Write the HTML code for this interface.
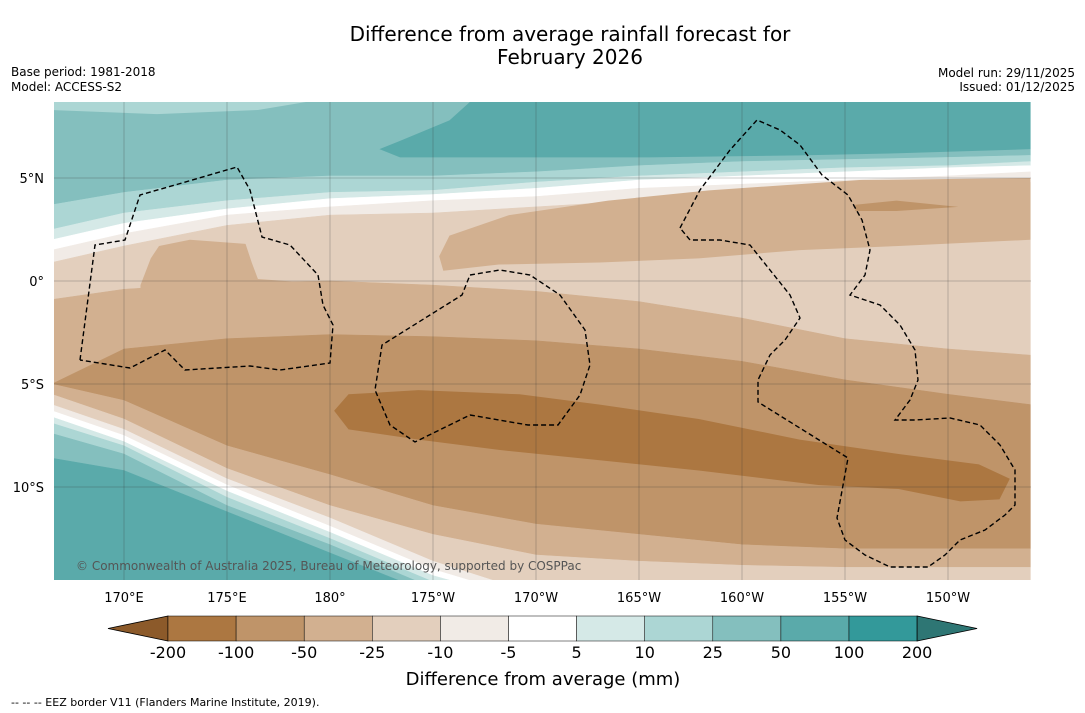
<!DOCTYPE html>
<html><head><meta charset="utf-8"><style>
body{margin:0;background:#fff;font-family:"DejaVu Sans","Liberation Sans",sans-serif;}
svg{display:block;font-family:"DejaVu Sans","Liberation Sans",sans-serif;}
</style></head><body>
<svg id="svg" width="1085" height="713" xmlns="http://www.w3.org/2000/svg">
<defs><clipPath id="mapclip"><rect x="54" y="102" width="977" height="478"/></clipPath></defs>
<text x="570" y="41" font-size="20" text-anchor="middle">Difference from average rainfall forecast for</text>
<text x="570" y="64" font-size="20" text-anchor="middle">February 2026</text>
<text x="11" y="76" font-size="12">Base period: 1981-2018</text>
<text x="11" y="91" font-size="12">Model: ACCESS-S2</text>
<text x="1075" y="77" font-size="12" text-anchor="end">Model run: 29/11/2025</text>
<text x="1075" y="91" font-size="12" text-anchor="end">Issued: 01/12/2025</text>
<g id="map" clip-path="url(#mapclip)"></g>
<g id="grid"></g>
<g id="eez" fill="none" stroke="#000" stroke-width="1.4" stroke-dasharray="5,3" clip-path="url(#mapclip)">
<polyline points="80,360 95,245 125,240 140,195 175,185 237,167 250,190 262,237 290,245 318,275 323,305 333,325 330,363 280,370 250,366 185,370 165,350 130,368 80,360"/>
<polyline points="470,275 500,270 530,275 560,295 585,330 590,365 580,395 558,425 528,425 470,415 415,442 390,425 375,390 382,345 430,315 462,295 470,275"/>
<polyline points="680,228 700,190 730,150 757,120 780,130 800,145 822,175 848,195 862,220 870,250 865,275 850,295 880,305 900,325 915,350 918,380 910,400 895,420 915,420 950,418 980,425 1000,445 1015,470 1015,505 1005,515 985,530 960,540 945,555 928,567 890,567 865,555 845,540 837,518 848,458 758,402 758,380 770,355 785,340 800,318 790,295 770,270 750,245 720,240 690,240 680,228"/>
</g>
<text x="76" y="570" font-size="12" fill="#555">© Commonwealth of Australia 2025, Bureau of Meteorology, supported by COSPPac</text>
<g id="axes"></g>
<g id="cbar"></g>
<text x="543" y="685" font-size="18" text-anchor="middle">Difference from average (mm)</text>
<text x="11" y="706" font-size="11">--  --  -- EEZ border V11 (Flanders Marine Institute, 2019).</text>
</svg>
<script>
const lons=[166.5,170,175,180,185,190,195,200,205,210,214];
const c1=[3.7,4.3,4.9,5.1,5.1,5.3,5.6,5.8,5.9,6.0,6.1];
const c2=[2.5,3.3,3.9,4.3,4.4,4.8,5.1,5.3,5.5,5.6,5.8];
const c3=[2.0,2.8,3.5,4.0,4.2,4.5,4.9,5.1,5.3,5.5,5.6];
const c4=[1.5,2.3,3.2,3.6,3.9,4.1,4.5,4.7,4.9,5.1,5.3];
const c5=[0.9,1.7,2.7,3.2,3.3,3.6,3.9,4.1,4.4,4.6,4.8];
const c6=[-0.9,-0.4,-0.1,0,-0.2,-0.5,-1.0,-1.8,-2.8,-3.3,-3.6];
const c7=[-5.0,-3.3,-2.8,-2.6,-2.7,-2.9,-3.3,-3.9,-4.8,-5.5,-6.0];
const c8=[-5.0,-5.8,-8.0,-9.4,-10.9,-11.8,-12.3,-12.8,-13.0,-13.0,-13.0];
const c9=[-5.5,-6.7,-9.1,-10.9,-12.3,-13.3,-13.6,-13.8,-13.9,-13.9,-13.9];
const c10=[-6.0,-7.2,-9.6,-11.5,-13.6,-15.2,-15.5,-15.5,-15.5,-15.5,-15.5];
const c11=[-6.3,-7.5,-9.9,-11.9,-14.0,-15.5,-16,-16,-16,-16,-16];
const c12=[-6.6,-7.8,-10.2,-12.2,-14.3,-15.7,-16,-16,-16,-16,-16];
const c13=[-6.9,-8.0,-10.5,-12.5,-14.6,-16,-16,-16,-16,-16,-16];
const c14=[-7.4,-8.4,-10.9,-12.8,-14.9,-16.2,-16.2,-16.2,-16.2,-16.2,-16.2];
const c15=[-8.6,-9.2,-11.2,-13.2,-15.2,-16.5,-16.5,-16.5,-16.5,-16.5,-16.5];
const topLat=[9,9,9,9,9,9,9,9,9,9,9];
const botLat=[-17,-17,-17,-17,-17,-17,-17,-17,-17,-17,-17];
const bands=[[topLat,c1,"#84bfbe"],[c1,c2,"#acd6d4"],[c2,c3,"#d5e9e7"],[c3,c4,"#ffffff"],[c4,c5,"#f1ebe6"],[c5,c6,"#e3cfbd"],[c6,c7,"#d2b090"],[c7,c8,"#bf9469"],[c8,c9,"#d2b090"],[c9,c10,"#e3cfbd"],[c10,c11,"#f1ebe6"],[c11,c12,"#ffffff"],[c12,c13,"#d5e9e7"],[c13,c14,"#acd6d4"],[c14,c15,"#84bfbe"],[c15,botLat,"#5aaaaa"]];
const tealTop=[[182.4,6.4],[183.4,6.8],[185.8,7.8],[186.8,8.7],[214,8.7],[214,6.4],[207.6,6.2],[202.8,6.1],[195.5,6.0],[188.2,6.0],[183.4,6.0]];
const lightTop=[[166.5,8.7],[178.9,8.7],[176.5,8.3],[171.6,8.1],[166.5,8.3]];
const tanTop=[[185.3,1.2],[185.8,2.2],[188.7,3.2],[193.5,3.9],[198.4,4.4],[205.7,4.9],[214,5.0],[214,2.0],[207.6,1.7],[202.8,1.5],[197.9,1.1],[193.1,0.9],[188.2,0.8],[185.5,0.5]];
const tanBulge=[[170.8,-0.2],[171.3,1.1],[171.7,1.7],[173.2,2.0],[175.9,1.8],[176.2,0.9],[176.5,0.1],[178.5,-0.05],[178.5,-0.9],[170.8,-0.9]];
const tanSpot=[[205.5,3.7],[207.5,3.9],[210.5,3.6],[207.5,3.4],[205.5,3.4]];
const darkBlob=[[180.2,-6.3],[180.9,-5.5],[184.3,-5.3],[189.2,-5.5],[193.1,-6.0],[197.9,-6.7],[202.8,-7.7],[207.6,-8.4],[211.5,-8.9],[213,-9.6],[212.5,-10.6],[210.6,-10.7],[207.6,-10.1],[203.7,-9.9],[197.9,-9.2],[193.1,-8.7],[188.2,-8.2],[184.3,-7.7],[180.9,-7.2]];
const levels=["-200","-100","-50","-25","-10","-5","5","10","25","50","100","200"];
const cbColors=["#ac7741","#bf9469","#d2b090","#e3cfbd","#f1ebe6","#ffffff","#d5e9e7","#acd6d4","#84bfbe","#5aaaaa","#33999a"];
const lonTicks=[170,175,180,185,190,195,200,205,210];
const lonLabels=["170°E","175°E","180°","175°W","170°W","165°W","160°W","155°W","150°W"];
const latTicks=[5,0,-5,-10];
const latLabels=["5°N","0°","5°S","10°S"];

const NS="http://www.w3.org/2000/svg";
const X=lon=>124+(lon-170)*20.6;
const Y=lat=>281-lat*20.6;
function mk(tag,attrs,parent){const e=document.createElementNS(NS,tag);for(const k in attrs)e.setAttribute(k,attrs[k]);parent.appendChild(e);return e;}
const map=document.getElementById('map');
bands.forEach((b,i)=>{
  const [a,c,col]=b;
  let pts=lons.map((l,j)=>X(l)+","+Y(a[j]));
  pts=pts.concat(lons.slice().reverse().map((l,j)=>X(l)+","+Y(c[lons.length-1-j])));
  const p=mk('polygon',{points:pts.join(" "),fill:col,stroke:col,'stroke-width':0.5},map);
  
  
});
[[tealTop,"#5aaaaa","teal-high-region"],[lightTop,"#acd6d4","light-teal-region"],[tanTop,"#d2b090","dry-region-north"],[tanBulge,"#d2b090","dry-region-west"],[tanSpot,"#bf9469","dry-spot"],[darkBlob,"#ac7741","very-dry-region"]].forEach(o=>{
  const p=mk('polygon',{points:o[0].map(q=>X(q[0])+","+Y(q[1])).join(" "),fill:o[1]},map);
  
  
});
const grid=document.getElementById('grid');
const axes=document.getElementById('axes');
lonTicks.forEach((l,i)=>{
  const ln=mk('line',{x1:X(l),x2:X(l),y1:102,y2:580,stroke:'#333','stroke-width':0.5,opacity:0.5},grid);
  
  
  const t=mk('text',{x:X(l),y:602,'font-size':13,'text-anchor':'middle'},axes);
  t.textContent=lonLabels[i];
  
  
});
latTicks.forEach((l,i)=>{
  const ln=mk('line',{x1:54,x2:1031,y1:Y(l),y2:Y(l),stroke:'#333','stroke-width':0.5,opacity:0.5},grid);
  
  
  const t=mk('text',{x:44,y:Y(l)+5,'font-size':13,'text-anchor':'end'},axes);
  t.textContent=latLabels[i];
  
  
});
const cb=document.getElementById('cbar');
const bx0=168,bw=68.1,by=616,bh=25;
const tl=mk('polygon',{points:`${bx0},${by} ${bx0},${by+bh} 108,${by+bh/2}`,fill:'#8c5a2a',stroke:'#000','stroke-width':0.8},cb);


cbColors.forEach((c,i)=>{
  const r=mk('rect',{x:bx0+i*bw,y:by,width:bw,height:bh,fill:c,stroke:'#000','stroke-width':0.5},cb);
  
  
});
const endX=bx0+cbColors.length*bw;
const tr=mk('polygon',{points:`${endX},${by} ${endX},${by+bh} ${endX+60},${by+bh/2}`,fill:'#2e7674',stroke:'#000','stroke-width':0.8},cb);


levels.forEach((l,i)=>{
  const t=mk('text',{x:bx0+i*bw,y:658,'font-size':16,'text-anchor':'middle'},cb);
  t.textContent=l;
  
  
});
</script>
</body></html>
